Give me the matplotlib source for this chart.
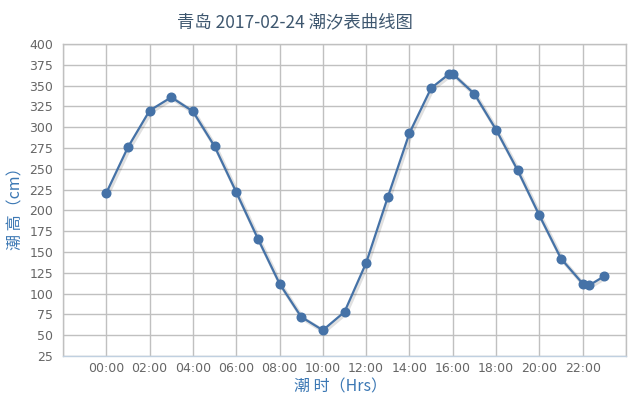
import matplotlib
matplotlib.use("Agg")
import matplotlib.pyplot as plt
import matplotlib.patheffects as pe

# data (hours, tide height cm)
hours = [0, 1, 2, 3, 4, 5, 6, 7, 8, 9, 10, 11, 12, 13, 14, 15, 15.83, 16, 17, 18, 19, 20, 21, 22, 22.3, 23]
heights = [221, 276, 320, 336, 319, 277, 222, 166, 112, 72, 56, 78, 137, 216, 293, 347, 364, 364, 340, 297, 248, 194, 142, 112, 110, 121]
xtick_pos = [0, 2, 4, 6, 8, 10, 12, 14, 16, 18, 20, 22]
xtick_labels = ["00:00", "02:00", "04:00", "06:00", "08:00", "10:00", "12:00", "14:00", "16:00", "18:00", "20:00", "22:00"]
yticks = [25, 50, 75, 100, 125, 150, 175, 200, 225, 250, 275, 300, 325, 350, 375, 400]

title = "青岛 2017-02-24 潮汐表曲线图"
xlabel = "潮 时（Hrs）"
ylabel = "潮 高（cm）"

fam = ["Noto Sans CJK SC", "DejaVu Sans"]
plt.rcParams["font.family"] = fam

W, H = 644, 407
fig = plt.figure(figsize=(W / 100, H / 100), dpi=100)
ax = fig.add_axes([63 / W, 1 - 356 / H, (626 - 63) / W, (356 - 44) / H])

line_color = "#4572A7"
ax.plot(hours, heights, color=line_color, lw=1.6, zorder=5,
        path_effects=[pe.SimpleLineShadow(offset=(1, -1), shadow_color="black", alpha=0.12, linewidth=3), pe.Normal()])
ax.plot(hours, heights, ls="none", marker="o", ms=6.2, mec=line_color,
        mfc=line_color, zorder=6)

ax.set_xlim(-2, 24)
ax.set_ylim(25, 400)
ax.set_yticks(yticks)
ax.set_xticks(xtick_pos)
ax.set_xticklabels(xtick_labels)
ax.set_xticks(range(-2, 25, 2), minor=True)
ax.grid(True, which="both", color="#C0C0C0", lw=1)
ax.set_axisbelow(True)
ax.tick_params(axis="both", which="both", length=0, labelsize=9, labelcolor="#666666")
ax.tick_params(axis="y", pad=7)
ax.tick_params(axis="x", pad=4)
for lab in ax.get_xticklabels() + ax.get_yticklabels():
    lab.set_family("DejaVu Sans")

for s in ["left", "right", "top"]:
    ax.spines[s].set_color("#C0C0C0")
    ax.spines[s].set_linewidth(1)
ax.spines["bottom"].set_color("#C0D0E0")
ax.spines["bottom"].set_linewidth(1)

fig.text(295 / W, 1 - 22 / H, title, ha="center", va="center", fontsize=12.5,
         color="#3E576F", family=fam)
fig.text(341 / W, 1 - 387 / H, xlabel, ha="center", va="center", fontsize=11.5,
         color="#3C78B4", family=fam)
fig.text(16 / W, 1 - 205 / H, ylabel, ha="center", va="center", fontsize=11.5,
         color="#3C78B4", family=fam, rotation=90)

fig.savefig("out.png", dpi=100)
